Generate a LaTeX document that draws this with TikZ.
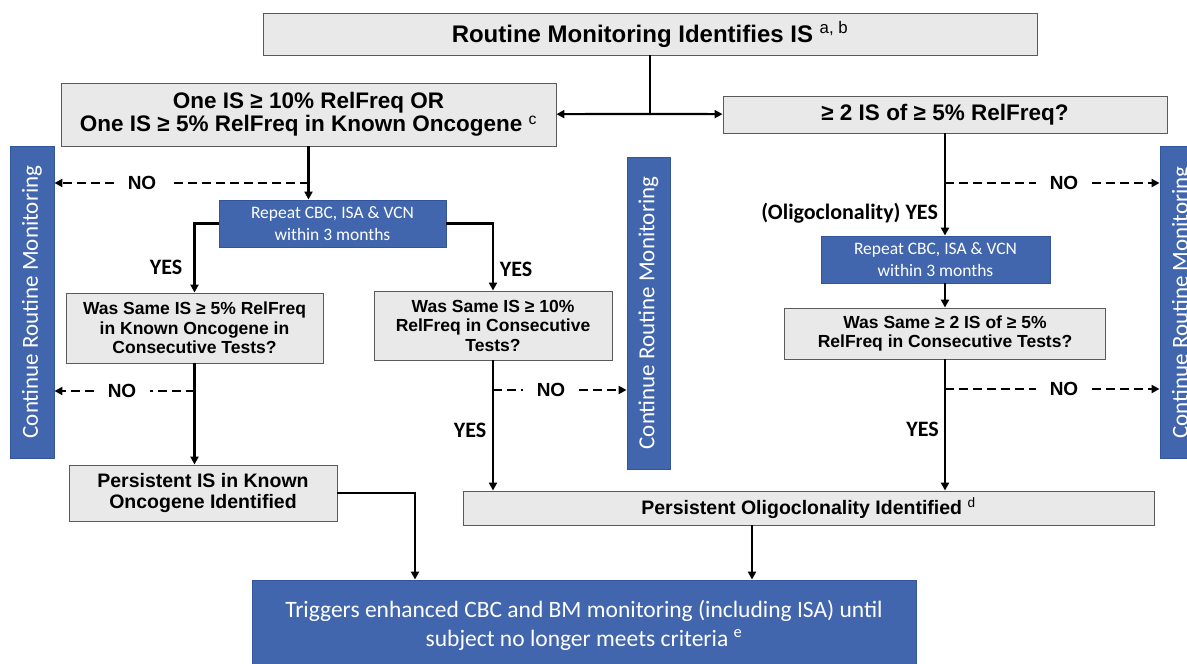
\documentclass[tikz,border=0pt]{standalone}
\usepackage{fontspec}
\setmainfont{Liberation Sans}
\newfontfamily\calibri{Carlito}
\usetikzlibrary{arrows.meta,positioning,calc}

\definecolor{boxgray}{RGB}{233,233,233}
\definecolor{boxline}{RGB}{90,90,90}
\definecolor{bluefill}{RGB}{65,102,174}
\definecolor{blueline}{RGB}{50,85,155}

\newcommand{\supmark}[1]{\textsuperscript{\mdseries #1}}

\tikzset{
  graybox/.style={draw=boxline, fill=boxgray, line width=0.9pt, align=center, inner sep=0pt},
  bluebox/.style={draw=blueline, fill=bluefill, line width=0.9pt, text=white, align=center, inner sep=0pt},
  sidebar/.style={bluebox, rotate=90, minimum width=312pt, minimum height=44pt, font=\calibri\fontsize{23}{26}\selectfont},
  conn/.style={line width=2.2pt},
  arr/.style={conn, -{Triangle[length=8pt,width=8pt]}},
  noline/.style={line width=2pt, dash pattern=on 9pt off 5pt},
  noarr/.style={noline, -{Triangle[length=8pt,width=8pt]}},
  nolabel/.style={font=\bfseries\fontsize{19}{21}\selectfont, inner xsep=14pt, inner ysep=2pt},
  yeslabel/.style={font=\calibri\bfseries\fontsize{22}{24}\selectfont, inner sep=1pt},
}

\begin{document}
\begin{tikzpicture}[x=1pt,y=-1pt]
    \clip (0,0) rectangle (1187,664);
    \fill[white] (0,0) rectangle (1187,664);

    % question boxes
    \node[graybox, minimum width=774pt, minimum height=42pt, font=\bfseries\fontsize{24}{26}\selectfont] (top) at (650,34) {Routine Monitoring Identifies IS \supmark{a, b}};
    \node[graybox, minimum width=495pt, minimum height=63pt, font=\bfseries\fontsize{22.5}{23}\selectfont] (one) at (308.5,114.5) {One IS ≥ 10\% RelFreq OR\\One IS ≥ 5\% RelFreq in Known Oncogene \supmark{c}};
    \node[graybox, minimum width=444pt, minimum height=37pt, font=\bfseries\fontsize{22.5}{23}\selectfont] (two) at (945,114.5) {≥ 2 IS of ≥ 5\% RelFreq?};

    \node[bluebox, minimum width=227pt, minimum height=47pt, font=\calibri\fontsize{17.5}{22}\selectfont] (rep1) at (332.5,223.5) {Repeat CBC, ISA \& VCN\\within 3 months};
    \node[bluebox, minimum width=229pt, minimum height=47pt, font=\calibri\fontsize{17.5}{22}\selectfont] (rep2) at (935.5,259.5) {Repeat CBC, ISA \& VCN\\within 3 months};

    \node[graybox, minimum width=257pt, minimum height=70pt, font=\bfseries\fontsize{17.5}{19.5}\selectfont] (was1) at (194.5,328) {Was Same IS ≥ 5\% RelFreq\\in Known Oncogene in\\Consecutive Tests?};
    \node[graybox, minimum width=238pt, minimum height=69pt, font=\bfseries\fontsize{17.5}{19.5}\selectfont] (was2) at (493,325.5) {Was Same IS ≥ 10\%\\RelFreq in Consecutive\\Tests?};
    \node[graybox, minimum width=321pt, minimum height=51pt, font=\bfseries\fontsize{17.5}{19.5}\selectfont] (was3) at (945,333.5) {Was Same ≥ 2 IS of ≥ 5\%\\RelFreq in Consecutive Tests?};

    \node[graybox, minimum width=268pt, minimum height=56pt, font=\bfseries\fontsize{19.5}{21}\selectfont] (pers1) at (203,493) {Persistent IS in Known\\Oncogene Identified};
    \node[graybox, minimum width=691pt, minimum height=34pt, font=\bfseries\fontsize{19.5}{21}\selectfont] (pers2) at (808.5,508) {Persistent Oligoclonality Identified \supmark{d}};

    \node[bluebox, minimum width=664pt, minimum height=90pt, font=\calibri\fontsize{23.5}{29}\selectfont] (trig) at (584,625) {Triggers enhanced CBC and BM monitoring (including ISA) until\\subject no longer meets criteria \supmark{e}};

    % side bars
    \node[sidebar] (lbar) at (32,302) {Continue Routine Monitoring};
    \node[sidebar, minimum height=43pt] (mbar) at (648.5,313) {Continue Routine Monitoring};
    \node[sidebar] (rbar) at (1182,302.5) {Continue Routine Monitoring};

    % top split
    \coordinate (split) at (650,114);
    \draw[conn] (top) -- (split);
    \draw[arr] (split) -- (one);
    \draw[arr] (split) -- (two);

    % left branch
    \draw[arr] (one.south) -- (one.south |- rep1.north);
    \coordinate (nA) at (308.5,183);
    \node[nolabel] (noA) at (142,183) {NO};
    \draw[noline] (nA) -- (noA);
    \draw[noarr] (noA) -- (lbar.south |- nA);

    \draw[arr] (rep1.west) -| (was1.north);
    \draw[arr] (rep1.east) -| (was2.north);
    \node[yeslabel] (yesA) at (166,267) {YES};
    \node[yeslabel] (yesB) at (516,269) {YES};

    \draw[arr] (was1.south) -- (was1.south |- pers1.north);
    \coordinate (nB) at (194.5,391);
    \node[nolabel] (noB) at (122,391) {NO};
    \draw[noline] (nB) -- (noB);
    \draw[noarr] (noB) -- (lbar.south |- nB);

    \draw[arr] (pers1.east) -| ([xshift=-169pt]trig.north);

    % middle branch
    \draw[arr] (was2.south) -- (was2.south |- pers2.north);
    \coordinate (nC) at (493,390);
    \node[nolabel] (noC) at (551,390) {NO};
    \draw[noline] (nC) -- (noC);
    \draw[noarr] (noC) -- (mbar.north |- nC);
    \node[yeslabel] (yesC) at (470,430) {YES};

    % right branch
    \draw[arr] (two.south) -- (two.south |- rep2.north);
    \draw[arr] (two.south |- rep2.south) -- (two.south |- was3.north);
    \draw[arr] (was3.south) -- (was3.south |- pers2.north);
    \coordinate (nD) at (945,183);
    \node[nolabel] (noD) at (1064,183) {NO};
    \draw[noline] (nD) -- (noD);
    \draw[noarr] (noD) -- (rbar.north |- nD);
    \node[yeslabel, anchor=east] (yesD) at (939,213) {(Oligoclonality) YES};
    \coordinate (nE) at (945,389);
    \node[nolabel] (noE) at (1064,389) {NO};
    \draw[noline] (nE) -- (noE);
    \draw[noarr] (noE) -- (rbar.north |- nE);
    \node[yeslabel, anchor=east] (yesE) at (940,429) {YES};

    \draw[arr] ([xshift=-56.5pt]pers2.south) -- ([xshift=168pt]trig.north);
\end{tikzpicture}
\end{document}
